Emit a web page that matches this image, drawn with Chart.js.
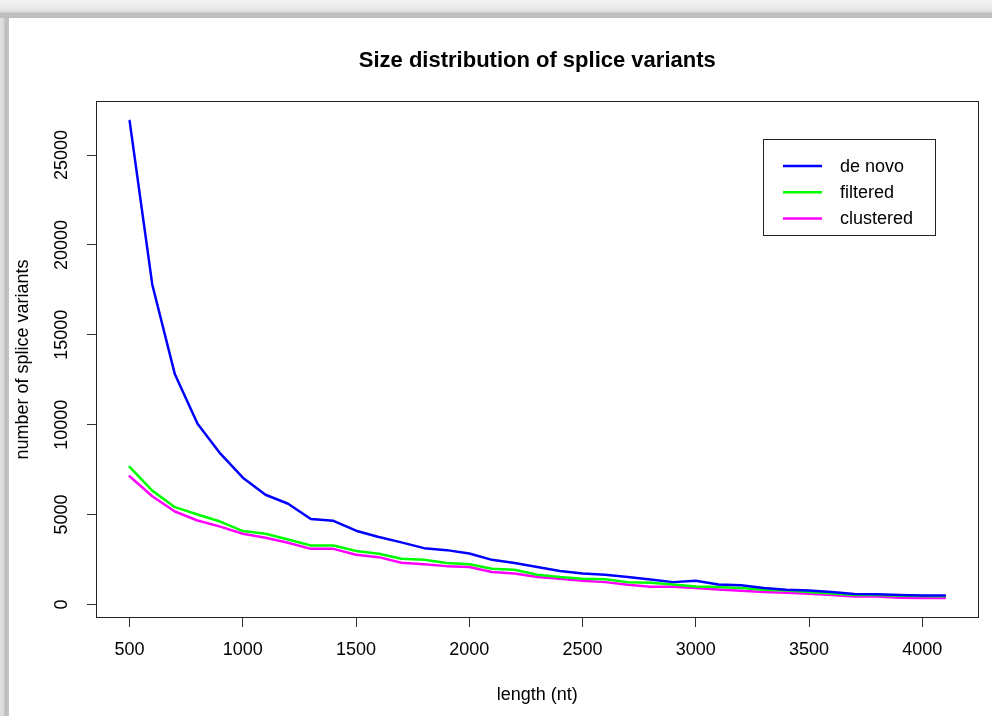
<!DOCTYPE html>
<html>
<head>
<meta charset="utf-8">
<title>Size distribution of splice variants</title>
<script src="https://cdn.jsdelivr.net/npm/chart.js@4.4.0/dist/chart.umd.min.js"></script>
<style>
    html, body { margin: 0; padding: 0; background: #fff; }
    #wrap { position: relative; width: 992px; height: 716px; overflow: hidden; background: #fff; }
    #chart { position: absolute; left: 0; top: 0; }
    #shadeTop {
        position: absolute; left: 0; top: 0; width: 992px; height: 18px;
        background: linear-gradient(to bottom, #f3f3f3 0px, #ececec 7px, #dcdcdc 12px, #bdbdbd 13px, #bdbdbd 18px);
    }
    #shadeLeft {
        position: absolute; left: 0; top: 18px; width: 9px; height: 698px;
        background: linear-gradient(to right, #e2e2e2 0px, #d6d6d6 4px, #bcbcbc 5px, #c4c4c4 9px);
    }
</style>
</head>
<body>
<div id="wrap">
    <canvas id="chart" width="992" height="716"></canvas>
    <div id="shadeTop"></div>
    <div id="shadeLeft"></div>
</div>
<script>
// longitudes (nt)
const lengths = [500, 600, 700, 800, 900, 1000, 1100, 1200, 1300, 1400, 1500, 1600, 1700, 1800,
    1900, 2000, 2100, 2200, 2300, 2400, 2500, 2600, 2700, 2800, 2900, 3000, 3100, 3200, 3300,
    3400, 3500, 3600, 3700, 3800, 3900, 4000, 4100];

const deNovo = [26900, 17800, 12800, 10050, 8400, 7050, 6100, 5600, 4750, 4650, 4100, 3750, 3450,
    3130, 3020, 2830, 2480, 2300, 2080, 1860, 1720, 1650, 1520, 1390, 1240, 1320, 1110, 1060, 910,
    820, 780, 690, 580, 560, 520, 500, 500];

const filtered = [7650, 6330, 5410, 5000, 4610, 4080, 3930, 3610, 3280, 3280, 2970, 2820, 2540,
    2480, 2300, 2240, 1980, 1930, 1650, 1520, 1430, 1400, 1240, 1200, 1110, 1000, 970, 910, 820,
    780, 690, 610, 520, 520, 480, 470, 460];

const clustered = [7130, 6020, 5170, 4670, 4330, 3930, 3710, 3430, 3090, 3090, 2760, 2630, 2320,
    2240, 2130, 2080, 1800, 1720, 1520, 1430, 1320, 1240, 1090, 980, 980, 910, 830, 760, 690,
    650, 590, 520, 440, 440, 370, 360, 355];

const xTicks = [500, 1000, 1500, 2000, 2500, 3000, 3500, 4000];
const yTicks = [0, 5000, 10000, 15000, 20000, 25000];

const FONT = '"Liberation Sans", Arial, sans-serif';

function serie(label, values, color) {
    return {
        label: label,
        data: lengths.map((x, i) => ({ x: x, y: values[i] })),
        borderColor: color,
        backgroundColor: color,
        borderWidth: 2.5,
        pointRadius: 0,
        tension: 0,
        borderJoinStyle: 'round',
        borderCapStyle: 'round'
    };
}

// caja, titulo y leyenda al estilo de R
const plotFrame = {
    id: 'plotFrame',
    afterDraw(chart) {
        const ctx = chart.ctx;
        const a = chart.chartArea;
        ctx.save();

        ctx.strokeStyle = '#222';
        ctx.lineWidth = 1;
        ctx.strokeRect(Math.round(a.left) - 0.5, Math.round(a.top) - 0.5,
            Math.round(a.right - a.left) + 1, Math.round(a.bottom - a.top) + 1);

        ctx.fillStyle = '#000';
        ctx.font = 'bold 22px ' + FONT;
        ctx.textAlign = 'center';
        ctx.textBaseline = 'middle';
        ctx.fillText('Size distribution of splice variants', (a.left + a.right) / 2, 60.5);

        const x0 = a.right - 214.5;
        const y0 = a.top + 37;
        ctx.strokeStyle = '#222';
        ctx.strokeRect(Math.round(x0) + 0.5, Math.round(y0) + 0.5, 172, 96);
        ctx.font = '18px ' + FONT;
        ctx.textAlign = 'left';
        chart.data.datasets.forEach((ds, i) => {
            const y = y0 + 27 + i * 26.2;
            ctx.strokeStyle = ds.borderColor;
            ctx.lineWidth = ds.borderWidth;
            ctx.beginPath();
            ctx.moveTo(x0 + 20, y);
            ctx.lineTo(x0 + 59, y);
            ctx.stroke();
            ctx.fillStyle = '#000';
            ctx.fillText(ds.label, x0 + 77, y + 1);
        });
        ctx.restore();
    }
};

const chart = new Chart(document.getElementById('chart'), {
    type: 'line',
    data: {
        datasets: [
            serie('de novo', deNovo, '#0000ff'),
            serie('filtered', filtered, '#00ff00'),
            serie('clustered', clustered, '#ff00ff')
        ]
    },
    options: {
        responsive: false,
        animation: false,
        layout: { padding: { top: 102, right: 14.5, left: 0, bottom: 0 } },
        plugins: {
            legend: { display: false },
            tooltip: { enabled: false },
            title: { display: false }
        },
        scales: {
            x: {
                type: 'linear',
                min: 356,
                max: 4244,
                afterBuildTicks: s => { s.ticks = xTicks.map(v => ({ value: v })); },
                afterFit: s => { s.height = 99; },
                ticks: {
                    color: '#000',
                    font: { family: FONT, size: 18 },
                    padding: 12,
                    maxRotation: 0,
                    autoSkip: false,
                    callback: v => String(v)
                },
                grid: { drawOnChartArea: false, tickLength: 10, color: '#333', lineWidth: 1 },
                border: { display: false },
                title: {
                    display: true,
                    text: 'length (nt)',
                    color: '#000',
                    font: { family: FONT, size: 18 },
                    padding: { top: 0, bottom: 10 }
                }
            },
            y: {
                type: 'linear',
                min: -700,
                max: 27950,
                afterBuildTicks: s => { s.ticks = yTicks.map(v => ({ value: v })); },
                afterFit: s => { s.width = 97; },
                ticks: {
                    color: '#000',
                    font: { family: FONT, size: 18 },
                    padding: 0,
                    minRotation: 90,
                    maxRotation: 90,
                    crossAlign: 'center',
                    autoSkip: false,
                    callback: v => String(v)
                },
                grid: { drawOnChartArea: false, tickLength: 10, color: '#333', lineWidth: 1 },
                border: { display: false },
                title: {
                    display: true,
                    text: 'number of splice variants',
                    color: '#000',
                    font: { family: FONT, size: 18 },
                    padding: { top: 12, bottom: 0 }
                }
            }
        }
    },
    plugins: [plotFrame]
});
</script>
</body>
</html>
